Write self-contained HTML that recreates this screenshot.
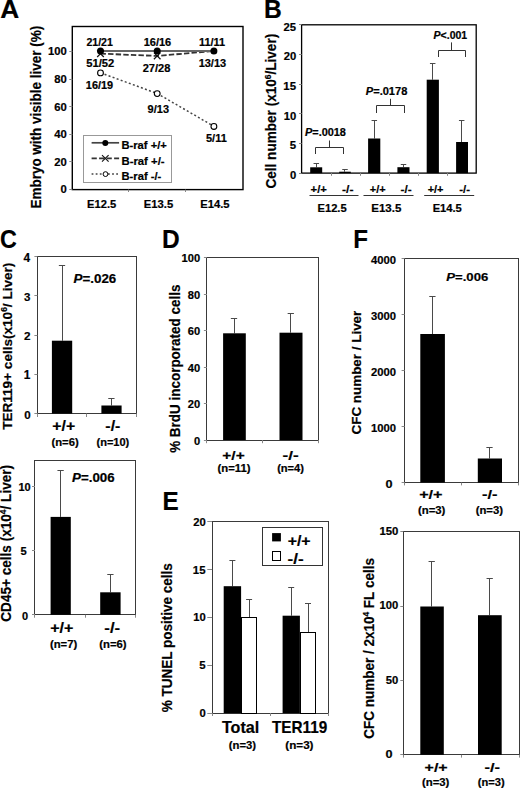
<!DOCTYPE html>
<html><head><meta charset="utf-8"><style>
html,body{margin:0;padding:0;background:#fff;}
svg{display:block;}
text{font-family:"Liberation Sans",sans-serif;font-weight:bold;stroke:#000;stroke-width:0.2px;}
</style></head><body>
<svg width="520" height="788" viewBox="0 0 520 788">
<rect width="520" height="788" fill="#fff"/>
<text transform="translate(0.24,17.80) scale(1.0183,1)" font-size="25.80" fill="#000">A</text>
<rect x="72.30" y="26.50" width="170.70" height="163.10" fill="none" stroke="#000" stroke-width="1.4"/>
<line x1="69.3" y1="189.5" x2="72.3" y2="189.5" stroke="#888" stroke-width="1"/>
<text transform="translate(60.50,193.49) scale(1.0000,1)" font-size="11.27" fill="#000">0</text>
<line x1="69.3" y1="161.5" x2="72.3" y2="161.5" stroke="#888" stroke-width="1"/>
<text transform="translate(54.24,165.87) scale(1.0000,1)" font-size="11.27" fill="#000">20</text>
<line x1="69.3" y1="134.5" x2="72.3" y2="134.5" stroke="#888" stroke-width="1"/>
<text transform="translate(54.24,138.25) scale(1.0000,1)" font-size="11.27" fill="#000">40</text>
<line x1="69.3" y1="106.5" x2="72.3" y2="106.5" stroke="#888" stroke-width="1"/>
<text transform="translate(54.24,110.63) scale(1.0000,1)" font-size="11.27" fill="#000">60</text>
<line x1="69.3" y1="79.5" x2="72.3" y2="79.5" stroke="#888" stroke-width="1"/>
<text transform="translate(54.24,83.01) scale(1.0000,1)" font-size="11.27" fill="#000">80</text>
<line x1="69.3" y1="51.5" x2="72.3" y2="51.5" stroke="#888" stroke-width="1"/>
<text transform="translate(47.99,55.39) scale(1.0000,1)" font-size="11.27" fill="#000">100</text>
<line x1="128.5" y1="189.6" x2="128.5" y2="192" stroke="#888" stroke-width="1"/>
<line x1="185.5" y1="189.6" x2="185.5" y2="192" stroke="#888" stroke-width="1"/>
<polyline points="100.5,72.81 157.2,93.49 213.9,126.33" fill="none" stroke="#444" stroke-width="1.5" stroke-dasharray="2,2.3"/>
<polyline points="100.5,53.65 157.2,55.93 213.9,51.00" fill="none" stroke="#333" stroke-width="1.8" stroke-dasharray="5.4,2.2"/>
<polyline points="100.5,51.00 157.2,51.00 213.9,51.00" fill="none" stroke="#666" stroke-width="2"/>
<line x1="97.2" y1="50.35152000000001" x2="103.8" y2="56.95152" stroke="#111" stroke-width="1.2"/>
<line x1="97.2" y1="56.95152" x2="103.8" y2="50.35152000000001" stroke="#111" stroke-width="1.2"/>
<line x1="153.89999999999998" y1="52.63016999999998" x2="160.5" y2="59.23016999999997" stroke="#111" stroke-width="1.2"/>
<line x1="153.89999999999998" y1="59.23016999999997" x2="160.5" y2="52.63016999999998" stroke="#111" stroke-width="1.2"/>
<circle cx="100.5" cy="51.00" r="3.5" fill="#000"/>
<circle cx="157.2" cy="51.00" r="3.5" fill="#000"/>
<circle cx="213.9" cy="51.00" r="3.5" fill="#000"/>
<circle cx="100.5" cy="72.91" r="2.9" fill="#fff" stroke="#000" stroke-width="1.1"/>
<circle cx="157.2" cy="93.59" r="2.9" fill="#fff" stroke="#000" stroke-width="1.1"/>
<circle cx="213.9" cy="126.43" r="2.9" fill="#fff" stroke="#000" stroke-width="1.1"/>
<text transform="translate(86.43,45.80) scale(0.9739,1)" font-size="10.86" fill="#000">21/21</text>
<text transform="translate(143.64,45.80) scale(1.0572,1)" font-size="10.42" fill="#000">16/16</text>
<text transform="translate(198.94,45.80) scale(1.0477,1)" font-size="10.43" fill="#000">11/11</text>
<text transform="translate(86.26,66.70) scale(1.0740,1)" font-size="10.42" fill="#000">51/52</text>
<text transform="translate(142.71,72.30) scale(1.0934,1)" font-size="10.14" fill="#000">27/28</text>
<text transform="translate(198.64,66.89) scale(1.0431,1)" font-size="10.56" fill="#000">13/13</text>
<text transform="translate(85.84,89.30) scale(1.0784,1)" font-size="10.14" fill="#000">16/19</text>
<text transform="translate(147.62,112.99) scale(1.0401,1)" font-size="10.56" fill="#000">9/13</text>
<text transform="translate(205.97,141.59) scale(1.0274,1)" font-size="10.71" fill="#000">5/11</text>
<text transform="translate(87.08,207.79) scale(1.0282,1)" font-size="10.85" fill="#000">E12.5</text>
<text transform="translate(143.87,207.79) scale(1.0355,1)" font-size="10.85" fill="#000">E13.5</text>
<text transform="translate(200.17,207.79) scale(1.0209,1)" font-size="11.00" fill="#000">E14.5</text>
<text transform="translate(40.90,208.58) rotate(-90) scale(0.9603,1)" font-size="14.06" fill="#000">Embryo with visible liver (%)</text>
<rect x="83.50" y="135.50" width="88.00" height="47.00" fill="none" stroke="#999" stroke-width="1"/>
<line x1="91.6" y1="142.8" x2="119.1" y2="142.8" stroke="#444" stroke-width="1.7"/>
<circle cx="105.3" cy="142.9" r="3.0" fill="#000"/>
<line x1="91.6" y1="158.4" x2="119.1" y2="158.4" stroke="#333" stroke-width="1.6" stroke-dasharray="5.2,2.3"/>
<line x1="102.0" y1="155.1" x2="108.6" y2="161.70000000000002" stroke="#111" stroke-width="1.1"/>
<line x1="102.0" y1="161.70000000000002" x2="108.6" y2="155.1" stroke="#111" stroke-width="1.1"/>
<line x1="91.6" y1="174.1" x2="119.1" y2="174.1" stroke="#444" stroke-width="1.5" stroke-dasharray="1.8,2.3"/>
<circle cx="105.5" cy="174.1" r="2.4" fill="#fff" stroke="#000" stroke-width="1"/>
<text transform="translate(121.47,149.00) scale(1.0734,1)" font-size="10.43" fill="#000">B-raf +/+</text>
<text transform="translate(121.46,164.70) scale(1.0715,1)" font-size="10.58" fill="#000">B-raf +/-</text>
<text transform="translate(121.47,180.10) scale(1.0901,1)" font-size="10.29" fill="#000">B-raf -/-</text>
<text transform="translate(263.90,17.80) scale(0.9532,1)" font-size="25.80" fill="#000">B</text>
<rect x="301.60" y="24.80" width="174.60" height="148.30" fill="none" stroke="#000" stroke-width="1.3"/>
<line x1="299" y1="173.5" x2="301.6" y2="173.5" stroke="#888" stroke-width="1"/>
<text transform="translate(289.90,179.09) scale(1.0000,1)" font-size="11.27" fill="#000">0</text>
<line x1="299" y1="143.5" x2="301.6" y2="143.5" stroke="#888" stroke-width="1"/>
<text transform="translate(289.64,149.43) scale(1.0000,1)" font-size="11.43" fill="#000">5</text>
<line x1="299" y1="113.5" x2="301.6" y2="113.5" stroke="#888" stroke-width="1"/>
<text transform="translate(283.64,119.77) scale(1.0000,1)" font-size="11.27" fill="#000">10</text>
<line x1="299" y1="84.5" x2="301.6" y2="84.5" stroke="#888" stroke-width="1"/>
<text transform="translate(283.30,90.11) scale(1.0000,1)" font-size="11.43" fill="#000">15</text>
<line x1="299" y1="54.5" x2="301.6" y2="54.5" stroke="#888" stroke-width="1"/>
<text transform="translate(283.64,60.45) scale(1.0000,1)" font-size="11.27" fill="#000">20</text>
<line x1="299" y1="24.5" x2="301.6" y2="24.5" stroke="#888" stroke-width="1"/>
<text transform="translate(283.47,30.79) scale(1.0000,1)" font-size="11.27" fill="#000">25</text>
<line x1="331.5" y1="173.1" x2="331.5" y2="175.8" stroke="#888" stroke-width="1"/>
<line x1="360.5" y1="173.1" x2="360.5" y2="175.8" stroke="#888" stroke-width="1"/>
<line x1="389.5" y1="173.1" x2="389.5" y2="175.8" stroke="#888" stroke-width="1"/>
<line x1="418.5" y1="173.1" x2="418.5" y2="175.8" stroke="#888" stroke-width="1"/>
<line x1="447.5" y1="173.1" x2="447.5" y2="175.8" stroke="#888" stroke-width="1"/>
<line x1="316.5" y1="167.3" x2="316.5" y2="163.6" stroke="#4a4a4a" stroke-width="1"/>
<line x1="313.55" y1="163.5" x2="319.05" y2="163.5" stroke="#4a4a4a" stroke-width="1"/>
<rect x="310.20" y="167.30" width="12.00" height="5.80" fill="#000" stroke="none" stroke-width="1"/>
<line x1="344.5" y1="171.7" x2="344.5" y2="169.6" stroke="#4a4a4a" stroke-width="1"/>
<line x1="342.25" y1="169.5" x2="347.75" y2="169.5" stroke="#4a4a4a" stroke-width="1"/>
<rect x="339.20" y="171.70" width="11.60" height="1.40" fill="#000" stroke="none" stroke-width="1"/>
<line x1="374.5" y1="138.5" x2="374.5" y2="120.4" stroke="#4a4a4a" stroke-width="1"/>
<line x1="371.55" y1="120.5" x2="377.05" y2="120.5" stroke="#4a4a4a" stroke-width="1"/>
<rect x="368.10" y="138.50" width="12.20" height="34.60" fill="#000" stroke="none" stroke-width="1"/>
<line x1="403.5" y1="167.2" x2="403.5" y2="164.1" stroke="#4a4a4a" stroke-width="1"/>
<line x1="400.75" y1="164.5" x2="406.25" y2="164.5" stroke="#4a4a4a" stroke-width="1"/>
<rect x="397.40" y="167.20" width="12.10" height="5.90" fill="#000" stroke="none" stroke-width="1"/>
<line x1="432.5" y1="79.7" x2="432.5" y2="63.3" stroke="#4a4a4a" stroke-width="1"/>
<line x1="429.95" y1="63.5" x2="435.45" y2="63.5" stroke="#4a4a4a" stroke-width="1"/>
<rect x="426.70" y="79.70" width="12.20" height="93.40" fill="#000" stroke="none" stroke-width="1"/>
<line x1="461.5" y1="142" x2="461.5" y2="120.4" stroke="#4a4a4a" stroke-width="1"/>
<line x1="458.95" y1="120.5" x2="464.45" y2="120.5" stroke="#4a4a4a" stroke-width="1"/>
<rect x="456.10" y="142.00" width="11.90" height="31.10" fill="#000" stroke="none" stroke-width="1"/>
<polyline points="315.5,154 315.5,147.5 343.5,147.5 343.5,154" fill="none" stroke="#333" stroke-width="1"/>
<line x1="329.5" y1="147.5" x2="329.5" y2="140.5" stroke="#333" stroke-width="1"/>
<polyline points="376.5,113 376.5,105.5 404.5,105.5 404.5,113" fill="none" stroke="#333" stroke-width="1"/>
<line x1="390.5" y1="105.5" x2="390.5" y2="98.8" stroke="#333" stroke-width="1"/>
<polyline points="438.5,57 438.5,50.5 465.5,50.5 465.5,57" fill="none" stroke="#333" stroke-width="1"/>
<line x1="451.5" y1="50.5" x2="451.5" y2="42.4" stroke="#333" stroke-width="1"/>
<text transform="translate(304.98,135.70) scale(1.0919,1)" font-size="10.00" fill="#000"><tspan font-style="italic">P</tspan>=.0018</text>
<text transform="translate(365.78,94.60) scale(1.0632,1)" font-size="10.42" fill="#000"><tspan font-style="italic">P</tspan>=.0178</text>
<text transform="translate(433.59,39.30) scale(1.0362,1)" font-size="10.14" fill="#000"><tspan font-style="italic">P</tspan>&lt;.001</text>
<text transform="translate(310.55,192.50) scale(1.0323,1)" font-size="11.00" fill="#000">+/+</text>
<text transform="translate(369.76,192.50) scale(0.9990,1)" font-size="11.00" fill="#000">+/+</text>
<text transform="translate(427.66,192.50) scale(0.9990,1)" font-size="11.00" fill="#000">+/+</text>
<text transform="translate(342.01,192.50) scale(1.1035,1)" font-size="11.00" fill="#000">-/-</text>
<text transform="translate(400.53,192.50) scale(1.0720,1)" font-size="11.00" fill="#000">-/-</text>
<text transform="translate(459.24,192.50) scale(1.0405,1)" font-size="11.00" fill="#000">-/-</text>
<line x1="309.5" y1="195.5" x2="358.5" y2="195.5" stroke="#333" stroke-width="1"/>
<line x1="363.5" y1="195.5" x2="413.5" y2="195.5" stroke="#333" stroke-width="1"/>
<line x1="424.2" y1="195.5" x2="474.2" y2="195.5" stroke="#333" stroke-width="1"/>
<text transform="translate(317.47,212.29) scale(1.0454,1)" font-size="10.70" fill="#000">E12.5</text>
<text transform="translate(371.25,212.29) scale(1.0788,1)" font-size="10.70" fill="#000">E13.5</text>
<text transform="translate(432.68,212.29) scale(1.0270,1)" font-size="10.86" fill="#000">E14.5</text>
<text transform="translate(276.35,188.54) rotate(-90) scale(0.9274,1)" font-size="14.65" fill="#000">Cell number (x10<tspan font-size="9.08" dy="-5.27">6</tspan><tspan dy="5.27">/Liver)</tspan></text>
<text transform="translate(-0.03,248.34) scale(0.8869,1)" font-size="26.34" fill="#000">C</text>
<rect x="37.50" y="256.50" width="99.00" height="157.00" fill="none" stroke="#3a3a3a" stroke-width="1"/>
<line x1="34.4" y1="413.5" x2="37.4" y2="413.5" stroke="#888" stroke-width="1"/>
<text transform="translate(24.15,418.58) scale(1.0000,1)" font-size="11.55" fill="#000">0</text>
<line x1="34.4" y1="374.5" x2="37.4" y2="374.5" stroke="#888" stroke-width="1"/>
<text transform="translate(23.80,379.42) scale(1.0000,1)" font-size="11.88" fill="#000">1</text>
<line x1="34.4" y1="335.5" x2="37.4" y2="335.5" stroke="#888" stroke-width="1"/>
<text transform="translate(24.07,340.14) scale(1.0000,1)" font-size="11.71" fill="#000">2</text>
<line x1="34.4" y1="295.5" x2="37.4" y2="295.5" stroke="#888" stroke-width="1"/>
<text transform="translate(24.09,300.74) scale(1.0000,1)" font-size="11.55" fill="#000">3</text>
<line x1="34.4" y1="256.5" x2="37.4" y2="256.5" stroke="#888" stroke-width="1"/>
<text transform="translate(23.56,261.58) scale(1.0000,1)" font-size="11.88" fill="#000">4</text>
<line x1="37.5" y1="413.6" x2="37.5" y2="417" stroke="#888" stroke-width="1"/>
<line x1="86.5" y1="413.6" x2="86.5" y2="417" stroke="#888" stroke-width="1"/>
<line x1="136.5" y1="413.6" x2="136.5" y2="417" stroke="#888" stroke-width="1"/>
<line x1="62.5" y1="340.7" x2="62.5" y2="265.4" stroke="#4a4a4a" stroke-width="1"/>
<line x1="58.85" y1="265.5" x2="65.15" y2="265.5" stroke="#4a4a4a" stroke-width="1"/>
<rect x="51.90" y="340.70" width="20.30" height="72.90" fill="#000" stroke="none" stroke-width="1"/>
<line x1="111.5" y1="405.5" x2="111.5" y2="398.8" stroke="#4a4a4a" stroke-width="1"/>
<line x1="108.25" y1="398.5" x2="114.55000000000001" y2="398.5" stroke="#4a4a4a" stroke-width="1"/>
<rect x="101.40" y="405.50" width="20.20" height="8.10" fill="#000" stroke="none" stroke-width="1"/>
<text transform="translate(73.53,282.97) scale(1.0323,1)" font-size="12.96" fill="#000"><tspan font-style="italic">P</tspan>=.026</text>
<text transform="translate(52.27,430.60) scale(1.1303,1)" font-size="14.00" fill="#000">+/+</text>
<text transform="translate(105.36,430.60) scale(1.1396,1)" font-size="14.00" fill="#000">-/-</text>
<text transform="translate(51.44,446.20) scale(1.1293,1)" font-size="10.00" fill="#000">(n=6)</text>
<text transform="translate(96.45,446.00) scale(1.1061,1)" font-size="10.00" fill="#000">(n=10)</text>
<text transform="translate(12.10,429.84) rotate(-90) scale(1.0188,1)" font-size="13.33" fill="#000">TER119+ cells(x10<tspan font-size="8.27" dy="-4.80">6</tspan><tspan dy="4.80">/ Liver)</tspan></text>
<rect x="34.50" y="460.50" width="101.00" height="154.00" fill="none" stroke="#3a3a3a" stroke-width="1"/>
<line x1="32" y1="614.5" x2="35" y2="614.5" stroke="#888" stroke-width="1"/>
<text transform="translate(21.95,619.79) scale(1.0000,1)" font-size="10.99" fill="#000">0</text>
<line x1="32" y1="550.5" x2="35" y2="550.5" stroke="#888" stroke-width="1"/>
<text transform="translate(20.48,554.94) scale(1.0000,1)" font-size="11.14" fill="#000">5</text>
<line x1="32" y1="486.5" x2="35" y2="486.5" stroke="#888" stroke-width="1"/>
<text transform="translate(18.39,490.69) scale(1.0000,1)" font-size="10.99" fill="#000">10</text>
<line x1="34.5" y1="614.8" x2="34.5" y2="617.7" stroke="#888" stroke-width="1"/>
<line x1="85.5" y1="614.8" x2="85.5" y2="617.7" stroke="#888" stroke-width="1"/>
<line x1="135.5" y1="614.8" x2="135.5" y2="617.7" stroke="#888" stroke-width="1"/>
<line x1="60.5" y1="516.9" x2="60.5" y2="470.6" stroke="#4a4a4a" stroke-width="1"/>
<line x1="57.45" y1="470.5" x2="63.75" y2="470.5" stroke="#4a4a4a" stroke-width="1"/>
<rect x="50.60" y="516.90" width="20.20" height="97.90" fill="#000" stroke="none" stroke-width="1"/>
<line x1="110.5" y1="592.3" x2="110.5" y2="574" stroke="#4a4a4a" stroke-width="1"/>
<line x1="107.25" y1="574.5" x2="113.55000000000001" y2="574.5" stroke="#4a4a4a" stroke-width="1"/>
<rect x="100.20" y="592.30" width="20.40" height="22.50" fill="#000" stroke="none" stroke-width="1"/>
<text transform="translate(72.03,481.78) scale(1.1017,1)" font-size="12.11" fill="#000"><tspan font-style="italic">P</tspan>=.006</text>
<text transform="translate(50.16,632.80) scale(1.1460,1)" font-size="14.00" fill="#000">+/+</text>
<text transform="translate(104.33,632.80) scale(1.1974,1)" font-size="14.00" fill="#000">-/-</text>
<text transform="translate(49.94,647.90) scale(1.1293,1)" font-size="10.00" fill="#000">(n=7)</text>
<text transform="translate(99.24,647.90) scale(1.1293,1)" font-size="10.00" fill="#000">(n=6)</text>
<text transform="translate(11.06,621.74) rotate(-90) scale(0.9653,1)" font-size="14.08" fill="#000">CD45+ cells (x10<tspan font-size="8.73" dy="-5.07">4</tspan><tspan dy="5.07">/ Liver)</tspan></text>
<text transform="translate(162.10,247.80) scale(0.9571,1)" font-size="25.65" fill="#000">D</text>
<rect x="206.50" y="257.50" width="112.00" height="183.00" fill="none" stroke="#3a3a3a" stroke-width="1"/>
<line x1="203.9" y1="440.5" x2="206.9" y2="440.5" stroke="#888" stroke-width="1"/>
<text transform="translate(193.97,444.54) scale(1.0000,1)" font-size="11.13" fill="#000">0</text>
<line x1="203.9" y1="403.5" x2="206.9" y2="403.5" stroke="#888" stroke-width="1"/>
<text transform="translate(187.79,408.06) scale(1.0000,1)" font-size="11.13" fill="#000">20</text>
<line x1="203.9" y1="367.5" x2="206.9" y2="367.5" stroke="#888" stroke-width="1"/>
<text transform="translate(187.79,371.58) scale(1.0000,1)" font-size="11.13" fill="#000">40</text>
<line x1="203.9" y1="330.5" x2="206.9" y2="330.5" stroke="#888" stroke-width="1"/>
<text transform="translate(187.79,335.10) scale(1.0000,1)" font-size="11.13" fill="#000">60</text>
<line x1="203.9" y1="294.5" x2="206.9" y2="294.5" stroke="#888" stroke-width="1"/>
<text transform="translate(187.79,298.62) scale(1.0000,1)" font-size="11.13" fill="#000">80</text>
<line x1="203.9" y1="257.5" x2="206.9" y2="257.5" stroke="#888" stroke-width="1"/>
<text transform="translate(181.62,262.14) scale(1.0000,1)" font-size="11.13" fill="#000">100</text>
<line x1="206.5" y1="440.1" x2="206.5" y2="443.2" stroke="#888" stroke-width="1"/>
<line x1="262.5" y1="440.1" x2="262.5" y2="443.2" stroke="#888" stroke-width="1"/>
<line x1="318.5" y1="440.1" x2="318.5" y2="443.2" stroke="#888" stroke-width="1"/>
<line x1="234.5" y1="333.3" x2="234.5" y2="318.2" stroke="#4a4a4a" stroke-width="1"/>
<line x1="230.85" y1="318.5" x2="237.15" y2="318.5" stroke="#4a4a4a" stroke-width="1"/>
<rect x="223.10" y="333.30" width="22.70" height="106.80" fill="#000" stroke="none" stroke-width="1"/>
<line x1="290.5" y1="332.7" x2="290.5" y2="313.3" stroke="#4a4a4a" stroke-width="1"/>
<line x1="287.65000000000003" y1="313.5" x2="293.95" y2="313.5" stroke="#4a4a4a" stroke-width="1"/>
<rect x="279.50" y="332.70" width="23.00" height="107.40" fill="#000" stroke="none" stroke-width="1"/>
<text transform="translate(222.28,459.60) scale(1.1505,1)" font-size="13.50" fill="#000">+/+</text>
<text transform="translate(282.52,459.60) scale(1.2674,1)" font-size="13.50" fill="#000">-/-</text>
<text transform="translate(217.53,471.70) scale(1.1312,1)" font-size="10.00" fill="#000">(n=11)</text>
<text transform="translate(277.14,471.70) scale(1.1121,1)" font-size="10.00" fill="#000">(n=4)</text>
<text transform="translate(179.60,452.84) rotate(-90) scale(0.9778,1)" font-size="13.77" fill="#000">% BrdU incorporated cells</text>
<text transform="translate(162.62,509.90) scale(0.9399,1)" font-size="25.80" fill="#000">E</text>
<rect x="212.50" y="521.50" width="116.00" height="192.00" fill="none" stroke="#3a3a3a" stroke-width="1"/>
<line x1="207.3" y1="713.5" x2="212.1" y2="713.5" stroke="#888" stroke-width="1"/>
<text transform="translate(199.40,717.09) scale(1.0000,1)" font-size="11.27" fill="#000">0</text>
<line x1="207.3" y1="665.5" x2="212.1" y2="665.5" stroke="#888" stroke-width="1"/>
<text transform="translate(199.14,669.24) scale(1.0000,1)" font-size="11.43" fill="#000">5</text>
<line x1="207.3" y1="617.5" x2="212.1" y2="617.5" stroke="#888" stroke-width="1"/>
<text transform="translate(193.14,621.39) scale(1.0000,1)" font-size="11.27" fill="#000">10</text>
<line x1="207.3" y1="569.5" x2="212.1" y2="569.5" stroke="#888" stroke-width="1"/>
<text transform="translate(192.80,573.54) scale(1.0000,1)" font-size="11.43" fill="#000">15</text>
<line x1="207.3" y1="521.5" x2="212.1" y2="521.5" stroke="#888" stroke-width="1"/>
<text transform="translate(193.14,525.69) scale(1.0000,1)" font-size="11.27" fill="#000">20</text>
<line x1="212.5" y1="713.2" x2="212.5" y2="716" stroke="#888" stroke-width="1"/>
<line x1="270.5" y1="713.2" x2="270.5" y2="716" stroke="#888" stroke-width="1"/>
<line x1="328.5" y1="713.2" x2="328.5" y2="716" stroke="#888" stroke-width="1"/>
<line x1="232.5" y1="586.2" x2="232.5" y2="560.1" stroke="#4a4a4a" stroke-width="1"/>
<line x1="229.4" y1="560.5" x2="235.4" y2="560.5" stroke="#4a4a4a" stroke-width="1"/>
<rect x="223.70" y="586.20" width="17.40" height="127.00" fill="#000" stroke="none" stroke-width="1"/>
<line x1="249.5" y1="617.3" x2="249.5" y2="599.3" stroke="#4a4a4a" stroke-width="1"/>
<line x1="246.1" y1="599.5" x2="252.1" y2="599.5" stroke="#4a4a4a" stroke-width="1"/>
<rect x="241.50" y="617.50" width="15.00" height="96.00" fill="#fff" stroke="#000" stroke-width="1"/>
<line x1="291.5" y1="615.7" x2="291.5" y2="587.9" stroke="#4a4a4a" stroke-width="1"/>
<line x1="288.2" y1="587.5" x2="294.2" y2="587.5" stroke="#4a4a4a" stroke-width="1"/>
<rect x="282.60" y="615.70" width="17.30" height="97.50" fill="#000" stroke="none" stroke-width="1"/>
<line x1="308.5" y1="632" x2="308.5" y2="603.6" stroke="#4a4a4a" stroke-width="1"/>
<line x1="305.0" y1="603.5" x2="311.0" y2="603.5" stroke="#4a4a4a" stroke-width="1"/>
<rect x="300.50" y="632.50" width="15.00" height="81.00" fill="#fff" stroke="#000" stroke-width="1"/>
<rect x="262.50" y="527.50" width="60.00" height="38.00" fill="#fff" stroke="#333" stroke-width="1"/>
<rect x="272.10" y="533.10" width="8.80" height="8.30" fill="#000" stroke="none" stroke-width="1"/>
<rect x="272.50" y="551.50" width="8.00" height="9.00" fill="#fff" stroke="#000" stroke-width="1"/>
<text transform="translate(287.66,546.00) scale(1.1355,1)" font-size="14.00" fill="#000">+/+</text>
<text transform="translate(287.62,563.90) scale(1.2221,1)" font-size="14.00" fill="#000">-/-</text>
<text transform="translate(221.94,733.24) scale(1.0295,1)" font-size="15.65" fill="#000">Total</text>
<text transform="translate(271.95,733.24) scale(0.9456,1)" font-size="16.20" fill="#000">TER119</text>
<text transform="translate(228.74,748.80) scale(1.0775,1)" font-size="10.48" fill="#000">(n=3)</text>
<text transform="translate(285.32,748.80) scale(1.1145,1)" font-size="10.48" fill="#000">(n=3)</text>
<text transform="translate(172.10,712.34) rotate(-90) scale(0.9821,1)" font-size="13.77" fill="#000">% TUNEL positive cells</text>
<text transform="translate(353.23,247.80) scale(0.9297,1)" font-size="25.94" fill="#000">F</text>
<rect x="404.50" y="258.50" width="114.00" height="224.00" fill="none" stroke="#3a3a3a" stroke-width="1"/>
<line x1="401.6" y1="482.5" x2="404.6" y2="482.5" stroke="#888" stroke-width="1"/>
<text transform="translate(385.49,487.89) scale(1.1211,1)" font-size="11.27" fill="#000">0</text>
<line x1="401.6" y1="426.5" x2="404.6" y2="426.5" stroke="#888" stroke-width="1"/>
<text transform="translate(370.88,432.21) scale(1.0000,1)" font-size="11.27" fill="#000">1000</text>
<line x1="401.6" y1="370.5" x2="404.6" y2="370.5" stroke="#888" stroke-width="1"/>
<text transform="translate(370.88,376.13) scale(1.0000,1)" font-size="11.27" fill="#000">2000</text>
<line x1="401.6" y1="314.5" x2="404.6" y2="314.5" stroke="#888" stroke-width="1"/>
<text transform="translate(370.88,320.05) scale(1.0000,1)" font-size="11.27" fill="#000">3000</text>
<line x1="401.6" y1="258.5" x2="404.6" y2="258.5" stroke="#888" stroke-width="1"/>
<text transform="translate(370.88,263.97) scale(1.0000,1)" font-size="11.27" fill="#000">4000</text>
<line x1="404.5" y1="482.6" x2="404.5" y2="485.4" stroke="#888" stroke-width="1"/>
<line x1="461.5" y1="482.6" x2="461.5" y2="485.4" stroke="#888" stroke-width="1"/>
<line x1="518.5" y1="482.6" x2="518.5" y2="485.4" stroke="#888" stroke-width="1"/>
<line x1="432.5" y1="334" x2="432.5" y2="296" stroke="#4a4a4a" stroke-width="1"/>
<line x1="429.25" y1="296.5" x2="435.54999999999995" y2="296.5" stroke="#4a4a4a" stroke-width="1"/>
<rect x="420.30" y="334.00" width="24.60" height="148.60" fill="#000" stroke="none" stroke-width="1"/>
<line x1="489.5" y1="458.5" x2="489.5" y2="447.1" stroke="#4a4a4a" stroke-width="1"/>
<line x1="486.35" y1="447.5" x2="492.65" y2="447.5" stroke="#4a4a4a" stroke-width="1"/>
<rect x="477.80" y="458.50" width="24.20" height="24.10" fill="#000" stroke="none" stroke-width="1"/>
<text transform="translate(446.24,281.38) scale(1.1251,1)" font-size="11.69" fill="#000"><tspan font-style="italic">P</tspan>=.006</text>
<text transform="translate(419.15,499.40) scale(1.2454,1)" font-size="13.00" fill="#000">+/+</text>
<text transform="translate(482.04,499.40) scale(1.2628,1)" font-size="13.00" fill="#000">-/-</text>
<text transform="translate(417.93,513.70) scale(1.1379,1)" font-size="10.00" fill="#000">(n=3)</text>
<text transform="translate(475.63,513.70) scale(1.1336,1)" font-size="10.00" fill="#000">(n=3)</text>
<text transform="translate(361.30,434.44) rotate(-90) scale(1.0300,1)" font-size="13.04" fill="#000">CFC number / Liver</text>
<rect x="403.50" y="531.50" width="116.00" height="223.00" fill="none" stroke="#3a3a3a" stroke-width="1"/>
<line x1="400.3" y1="754.5" x2="403.3" y2="754.5" stroke="#888" stroke-width="1"/>
<text transform="translate(385.49,757.69) scale(1.1211,1)" font-size="11.27" fill="#000">0</text>
<line x1="400.3" y1="680.5" x2="403.3" y2="680.5" stroke="#888" stroke-width="1"/>
<text transform="translate(385.74,683.82) scale(1.0000,1)" font-size="11.27" fill="#000">50</text>
<line x1="400.3" y1="606.5" x2="403.3" y2="606.5" stroke="#888" stroke-width="1"/>
<text transform="translate(379.49,609.45) scale(1.0000,1)" font-size="11.27" fill="#000">100</text>
<line x1="400.3" y1="531.5" x2="403.3" y2="531.5" stroke="#888" stroke-width="1"/>
<text transform="translate(379.42,534.69) scale(1.0094,1)" font-size="11.27" fill="#000">150</text>
<line x1="403.5" y1="754.8" x2="403.5" y2="757.6" stroke="#888" stroke-width="1"/>
<line x1="461.5" y1="754.8" x2="461.5" y2="757.6" stroke="#888" stroke-width="1"/>
<line x1="519.5" y1="754.8" x2="519.5" y2="757.6" stroke="#888" stroke-width="1"/>
<line x1="431.5" y1="606.5" x2="431.5" y2="561.5" stroke="#4a4a4a" stroke-width="1"/>
<line x1="428.55" y1="561.5" x2="434.84999999999997" y2="561.5" stroke="#4a4a4a" stroke-width="1"/>
<rect x="420.30" y="606.50" width="23.50" height="148.30" fill="#000" stroke="none" stroke-width="1"/>
<line x1="489.5" y1="615.2" x2="489.5" y2="578.8" stroke="#4a4a4a" stroke-width="1"/>
<line x1="486.55" y1="578.5" x2="492.84999999999997" y2="578.5" stroke="#4a4a4a" stroke-width="1"/>
<rect x="478.00" y="615.20" width="23.70" height="139.60" fill="#000" stroke="none" stroke-width="1"/>
<text transform="translate(424.56,772.00) scale(1.2285,1)" font-size="13.00" fill="#000">+/+</text>
<text transform="translate(484.54,772.00) scale(1.2628,1)" font-size="13.00" fill="#000">-/-</text>
<text transform="translate(421.93,785.90) scale(1.1379,1)" font-size="10.00" fill="#000">(n=3)</text>
<text transform="translate(477.84,785.90) scale(1.1121,1)" font-size="10.00" fill="#000">(n=3)</text>
<text transform="translate(373.60,738.84) rotate(-90) scale(0.9821,1)" font-size="13.77" fill="#000">CFC number / 2x10<tspan font-size="8.54" dy="-4.96">4</tspan><tspan dy="4.96"> FL cells</tspan></text>
</svg>
</body></html>
